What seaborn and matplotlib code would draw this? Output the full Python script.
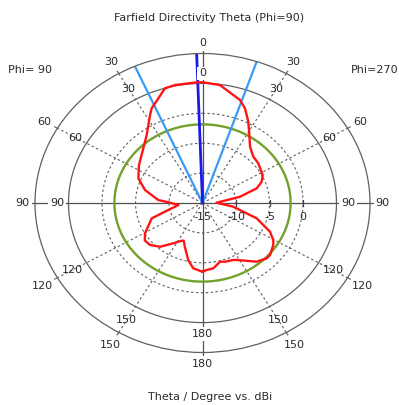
import numpy as np
import pandas as pd
import matplotlib
matplotlib.use("Agg")
import matplotlib.pyplot as plt
import seaborn as sns

# ---- data ----
theta_deg = [-180, -172.8, -167.5, -160.3, -156.0, -153.8, -147.1, -139.1, -131.8, -126.0,
             -120.6, -108.7, -102.9, -95.3, -88.6, -85.7, -75.8, -66.7, -56.2, -44.0,
             -36.2, -28.0, -25.6, -20.6, -16.3, -11.7, -2.5, 0.3, 7.5, 18.0,
             21.8, 26.7, 31.6, 37.0, 44.4, 51.4, 62.5, 68.0, 73.1, 79.4,
             88.6, 97.7, 107.6, 115.5, 120.4, 123.6, 130.8, 134.0, 140.5, 151.8,
             154.2, 161.1, 165.1, 171.6, 176.8, 180]
directivity_db = [-3.5, -4.0, -5.2, -7.2, -8.1, -7.97, -6.97, -5.32, -4.48, -4.35,
                  -5.03, -7.0, -9.76, -11.4, -9.9, -8.38, -6.15, -4.57, -3.59, -2.28,
                  -0.9, 1.67, 2.56, 3.7, 4.98, 5.15, 5.2, 5.18, 4.9, 3.11,
                  2.06, 0.22, -1.65, -3.21, -4.16, -4.35, -4.87, -5.47, -6.54, -9.3,
                  -12.9, -10.36, -6.51, -3.84, -2.75, -2.31, -1.69, -1.68, -2.28, -4.19,
                  -4.42, -4.62, -4.84, -3.96, -3.78, -3.5]
main_lobe_direction = -2.0
beam_width_edges = [-23.8, 18.9]
side_lobe_level = -1.85
r_limits = [-15, 10]
dashed_rings = [-10, -5, 0]
solid_rings = [5]
radial_tick_values = [-15, -10, -5, 0]
angle_ticks = [0, 30, 60, 90, 120, 150, 180]
inner_label_r = [6.7, 7.1, 6.9, 6.7, 7.5, 7.6, 6.9]
outer_label_r = [11.75, 12.2, 12.2, 11.9, 12.6, 12.4, 11.9]
title_text = "Farfield Directivity Theta (Phi=90)"
left_text = "Phi= 90"
right_text = "Phi=270"
bottom_text = "Theta / Degree vs. dBi"

sns.set_style("white")
plt.rcParams['font.family'] = ['DejaVu Sans']
FS = 8
TXT = '#2a2a2a'
GRID = '#606060'

W, H = 399, 405
fig = plt.figure(figsize=(W / 100, H / 100), dpi=100)
ax = fig.add_axes([35 / W, (H - 352.5) / H, 335 / W, 299 / H], projection='polar')
ax.set_theta_zero_location('N')
ax.set_theta_direction(-1)
ax.set_aspect('auto')
ax.grid(False)

full = np.linspace(0, 2 * np.pi, 721)
for r in dashed_rings:
    ax.plot(full, np.full_like(full, r), color=GRID, lw=0.8, ls=(0, (2.2, 2.2)))
for r in solid_rings:
    ax.plot(full, np.full_like(full, r), color=GRID, lw=0.9)

# radial spokes
for a in [30, 60, 120, 150]:
    for s in (-1, 1):
        t = np.deg2rad(s * a)
        ax.plot([t, t], [r_limits[0], r_limits[1]], color=GRID, lw=0.8,
                ls=(0, (2.2, 2.2)))
        ax.plot([t, t], [r_limits[1], r_limits[1] + 0.5], color=GRID, lw=0.8,
                clip_on=False)
for a in [0, 90, 180, -90]:
    t = np.deg2rad(a)
    ax.plot([t, t], [r_limits[0], r_limits[1] + 0.5], color='#505050', lw=0.9,
            clip_on=False)

# side lobe level ring
ax.plot(full, np.full_like(full, side_lobe_level), color='#74a02c', lw=1.7)

# beam lines
for e in beam_width_edges:
    t = np.deg2rad(e)
    ax.plot([t, t], [r_limits[0], r_limits[1]], color='#3a9af5', lw=1.6)
tm = np.deg2rad(main_lobe_direction)
ax.plot([tm, tm], [r_limits[0], r_limits[1]], color='#1a1ae6', lw=2.0)

# directivity curve
df = pd.DataFrame({'theta': np.deg2rad(theta_deg), 'dB': directivity_db})
sns.lineplot(data=df, x='theta', y='dB', sort=False, color='#ff1414', lw=1.7,
             ax=ax, legend=False, estimator=None)

ax.set_rlim(r_limits[0], r_limits[1])
ax.set_xticks([])
ax.set_yticks([])
ax.set_xlabel('')
ax.set_ylabel('')
ax.spines['polar'].set_color(GRID)
ax.spines['polar'].set_linewidth(0.9)

# small ticks on the radial axis
ax.plot(np.full(3, np.pi / 2), radial_tick_values[1:], ls='none', marker='|',
        ms=5, color='#404040', mew=0.9)
for v in radial_tick_values:
    ax.annotate(str(v), (np.pi / 2, v), xytext=(0, -14), textcoords='offset pixels',
                ha='center', va='center', fontsize=FS, color=TXT)

# angle labels (two rings)
for a, ri, ro in zip(angle_ticks, inner_label_r, outer_label_r):
    sides = [a] if a in (0, 180) else [-a, a]
    for s in sides:
        t = np.deg2rad(s)
        bb = dict(boxstyle='square,pad=0.15', fc='white', ec='none') if a in (0, 90, 180) else None
        ax.text(t, ri, str(a), ha='center', va='center', fontsize=FS, color=TXT,
                clip_on=False, bbox=bb, zorder=5)
        ax.text(t, ro, str(a), ha='center', va='center', fontsize=FS, color=TXT,
                clip_on=False, bbox=bb, zorder=5)

fig.text(209 / W, 1 - 18 / H, title_text, ha='center', va='center', fontsize=FS, color=TXT)
fig.text(30 / W, 1 - 70 / H, left_text, ha='center', va='center', fontsize=FS, color=TXT)
fig.text(375 / W, 1 - 70 / H, right_text, ha='center', va='center', fontsize=FS, color=TXT)
fig.text(210 / W, 1 - 397 / H, bottom_text, ha='center', va='center', fontsize=FS, color=TXT)

fig.savefig('out.png', dpi=100)
